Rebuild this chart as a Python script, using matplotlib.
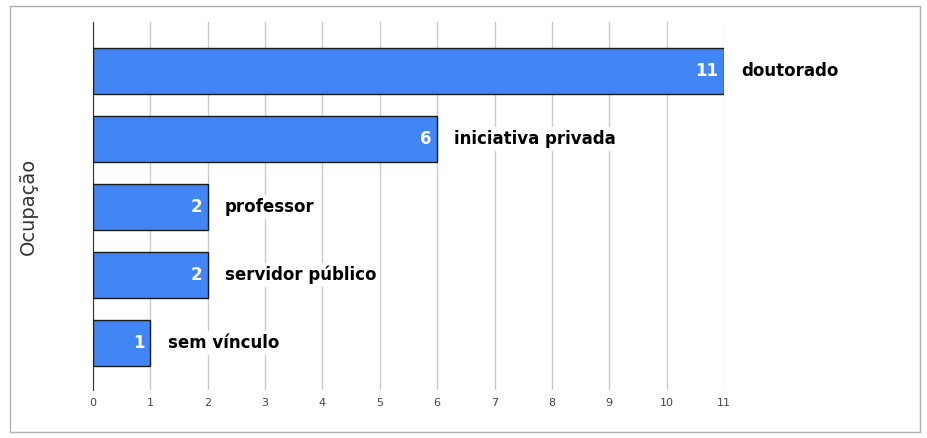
import matplotlib.pyplot as plt
from matplotlib.patches import Rectangle

# data
categories = ['doutorado', 'iniciativa privada', 'professor', 'servidor público', 'sem vínculo']
counts = [11, 6, 2, 2, 1]
xticks = list(range(0, 12))

fig = plt.figure(figsize=(9.27, 4.38), dpi=100)
fig.patches.append(Rectangle((10/927, 6/438), 910/927, 426/438, transform=fig.transFigure,
                             fill=False, edgecolor='#b0b0b0', linewidth=1))
ax = fig.add_axes([93/927, 48/438, (724-93)/927, (416-48)/438])

pos = list(range(len(categories)))
ax.barh(pos, counts, height=0.68, color='#4285f4', edgecolor='#1a1a1a', linewidth=1, zorder=3)
for p, v, c in zip(pos, counts, categories):
    ax.text(v - 0.1, p, str(v), color='white', fontweight='bold', fontsize=12,
            ha='right', va='center', zorder=4)
    ax.text(v + 0.3, p, c, color='black', fontweight='bold', fontsize=12,
            ha='left', va='center', zorder=4,
            bbox=dict(facecolor='white', edgecolor='none', pad=2))

ax.set_xlim(0, 11)
ax.set_ylim(4.69, -0.72)
ax.set_xticks(xticks)
ax.tick_params(axis='x', labelsize=8, colors='#444444', length=0, pad=6)
ax.set_yticks([])
ax.grid(axis='x', color='#cccccc', linewidth=1, zorder=0)
for s in ['top', 'right', 'bottom']:
    ax.spines[s].set_visible(False)
ax.spines['left'].set_color('#333333')
ax.set_ylabel('Ocupação', fontsize=14, color='#333333', labelpad=40)

fig.savefig('out.png', dpi=100)
